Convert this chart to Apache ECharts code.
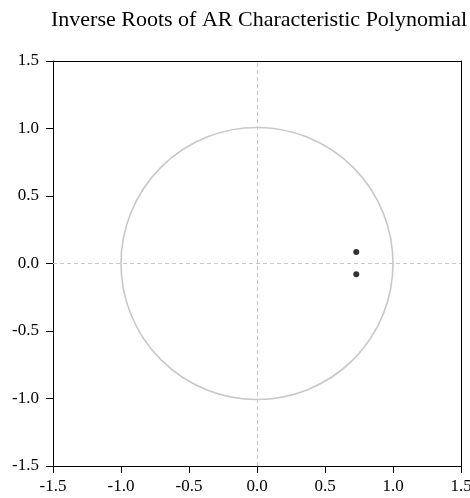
<!DOCTYPE html>
<html><head><meta charset="utf-8">
<script src="https://cdn.jsdelivr.net/npm/echarts@6/dist/echarts.min.js"></script>
<style>html,body{margin:0;padding:0;background:#fff}#c{width:470px;height:498px}</style>
</head><body><div id="c"></div>
<script>
var title = 'Inverse Roots of AR Characteristic Polynomial';
var rootsRe = [0.73, 0.73];
var rootsIm = [0.085, -0.08];
var unitRadius = 1;
var tickLabels = [-1.5, -1.0, -0.5, 0.0, 0.5, 1.0, 1.5];

var FONT = '"Liberation Serif", "Times New Roman", serif';
var points = rootsRe.map(function (r, i) { return [r, rootsIm[i]]; });

var axisCommon = {
  min: tickLabels[0], max: tickLabels[tickLabels.length - 1], interval: 0.5,
  axisLine: { show: true, onZero: false, lineStyle: { color: '#000', width: 1 } },
  axisTick: { show: true, length: 7, lineStyle: { color: '#000' } },
  splitLine: { show: false },
  axisLabel: { color: '#000', fontFamily: FONT, fontSize: 17,
    formatter: function (v) { return Number(v).toFixed(1); } }
};
var frameAxis = {
  type: 'value', min: -1.5, max: 1.5, interval: 0.5,
  axisLine: { show: true, onZero: false, lineStyle: { color: '#000' } },
  axisTick: { show: false }, axisLabel: { show: false }, splitLine: { show: false }
};

var chart = echarts.init(document.getElementById('c'), null, { renderer: 'canvas' });
chart.setOption({
  animation: false,
  backgroundColor: '#fff',
  title: { text: title, left: 51, top: 9, padding: 0,
    textStyle: { fontFamily: FONT, fontSize: 22, fontWeight: 'normal', color: '#000' } },
  grid: { left: 53, right: 9, top: 61, bottom: 32, containLabel: false, outerBoundsMode: 'none' },
  xAxis: [
    Object.assign({}, axisCommon, { type: 'value', position: 'bottom',
      axisLabel: Object.assign({}, axisCommon.axisLabel, { margin: 12 }) }),
    Object.assign({}, frameAxis, { position: 'top' })
  ],
  yAxis: [
    Object.assign({}, axisCommon, { type: 'value', position: 'left',
      axisLabel: Object.assign({}, axisCommon.axisLabel, { margin: 14 }) }),
    Object.assign({}, frameAxis, { position: 'right' })
  ],
  series: [
    {
      type: 'custom',
      silent: true,
      data: [[0, 0, unitRadius]],
      renderItem: function (params, api) {
        var c = api.coord([api.value(0), api.value(1)]);
        var e = api.coord([api.value(0) + api.value(2), api.value(1)]);
        return { type: 'circle', shape: { cx: c[0], cy: c[1], r: e[0] - c[0] },
          style: { fill: 'none', stroke: '#c8c8c8', lineWidth: 1.6 } };
      },
      markLine: {
        silent: true, symbol: 'none', label: { show: false },
        lineStyle: { color: '#c8c8c8', type: [4, 3], width: 1 },
        data: [{ xAxis: 0 }, { yAxis: 0 }]
      }
    },
    {
      type: 'scatter',
      data: points,
      symbol: 'circle',
      symbolSize: 6,
      itemStyle: { color: '#000' },
      z: 5
    }
  ]
});
</script></body></html>
